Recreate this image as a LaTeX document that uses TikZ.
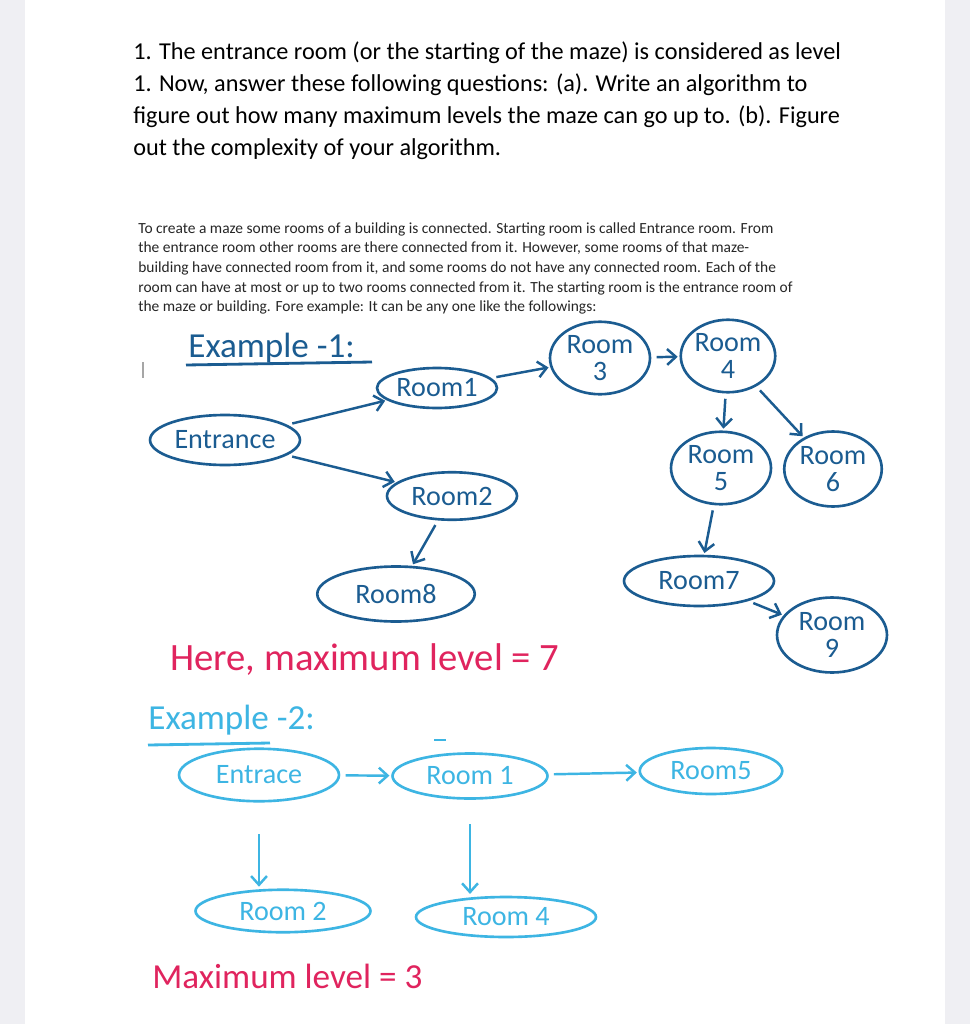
\documentclass[tikz,border=0pt]{standalone}
\usepackage{fontspec}
\setmainfont{Carlito}
\usetikzlibrary{shapes.geometric,arrows.meta}
\definecolor{inkdark}{HTML}{1B5C91}
\definecolor{inklight}{HTML}{3DB5E3}
\definecolor{inkpink}{HTML}{E0245E}
\definecolor{sidegray}{HTML}{EFEFF3}

\begin{document}
\begin{tikzpicture}[x=0.02cm, y=-0.02cm,
    room/.style={ellipse, draw, line width=1.5pt, inner sep=0pt, align=center,
      font=\fontsize{16}{15}\selectfont},
    inkone/.style={inkdark},
    inktwo/.style={inklight},
    link/.style={-{Straight Barb[length=5pt,width=9pt]}, line width=1.4pt,
      shorten <=3pt, shorten >=1pt},
    hand/.style={font=\fontsize{20}{20}\selectfont, inner sep=0pt}]
    \useasboundingbox (0,0) rectangle (970,1024);
    \fill[sidegray] (0,0) rectangle (970,1024);
    \fill[white] (25,0) rectangle (945,1024);

    % question and statement
    \node[anchor=north west, align=left, inner sep=0pt,
      font=\fontsize{13.8}{18.2}\selectfont] (question) at (133,41)
      {1. The entrance room (or the starting of the maze) is considered as level\\
       1. Now, answer these following questions: (a). Write an algorithm to\\
       figure out how many maximum levels the maze can go up to. (b). Figure\\
       out the complexity of your algorithm.};
    \node[anchor=north west, align=left, inner sep=0pt, black!85,
      font=\fontsize{8.8}{11.2}\selectfont] (statement) at (138,222)
      {To create a maze some rooms of a building is connected. Starting room is called Entrance room. From\\
       the entrance room other rooms are there connected from it. However, some rooms of that maze-\\
       building have connected room from it, and some rooms do not have any connected room. Each of the\\
       room can have at most or up to two rooms connected from it. The starting room is the entrance room of\\
       the maze or building. Fore example: It can be any one like the followings:};
    \draw[gray!70, line width=0.6pt] (143,362) -- (143,378);

    % example 1
    \node[hand, inkone, anchor=base west] (title1) at (188,357) {Example -1:};
    \draw[inkone, line width=1.6pt] (186,365) -- (372,362);
    \begin{scope}[every node/.append style={room, inkone}]
      \node[minimum width=3cm, minimum height=1cm] (entr) at (225,440) {Entrance};
      \node[minimum width=2.4cm, minimum height=0.8cm] (r1) at (437,388) {Room1};
      \node[minimum width=2.6cm, minimum height=0.95cm] (r2) at (452,496) {Room2};
      \node[minimum width=2cm, minimum height=1.45cm] (r3) at (600,358) {Room\\3};
      \node[minimum width=1.65cm, minimum height=1.45cm] (r4) at (728,356) {Room\\4};
      \node[minimum width=2cm, minimum height=1.45cm] (r5) at (721,468) {Room\\5};
      \node[minimum width=1.95cm, minimum height=1.5cm] (r6) at (833,469) {Room\\6};
      \node[minimum width=3cm, minimum height=1cm] (r7) at (699,581) {Room7};
      \node[minimum width=3.15cm, minimum height=1.1cm] (r8) at (396,594) {Room8};
      \node[minimum width=2.2cm, minimum height=1.5cm] (r9) at (832,635) {Room\\9};
    \end{scope}
    \begin{scope}[inkone]
      \draw[link] (entr) -- (r1);
      \draw[link] (entr) -- (r2);
      \draw[link] (r1) -- (r3);
      \draw[link] (r3) -- (r4);
      \draw[link] (r4) -- (r5);
      \draw[link] (r4) -- (r6);
      \draw[link] (r5) -- (r7);
      \draw[link] (r2) -- (r8);
      \draw[link] (r7) -- (r9);
    \end{scope}
    \node[hand, inkpink, anchor=base west, font=\fontsize{22}{22}\selectfont] (result1) at (170,670)
      {Here, maximum level = 7};

    % example 2
    \node[hand, inktwo, anchor=base west] (title2) at (148,729) {Example -2:};
    \draw[inktwo, line width=1.6pt] (148,745) -- (270,743);
    \draw[inktwo, line width=1.6pt] (434,740) -- (446,740);
    \begin{scope}[every node/.append style={room, inktwo}]
      \node[minimum width=3.2cm, minimum height=1.05cm] (e2) at (259,775) {Entrace};
      \node[minimum width=3.1cm, minimum height=0.9cm] (s1) at (470,776) {Room 1};
      \node[minimum width=2.85cm, minimum height=0.92cm] (s5) at (711,771) {Room5};
      \node[minimum width=3.5cm, minimum height=0.85cm] (s2) at (283,911) {Room 2};
      \node[minimum width=3.6cm, minimum height=0.8cm] (s4) at (506,917) {Room 4};
    \end{scope}
    \begin{scope}[inktwo]
      \draw[link] (e2) -- (s1);
      \draw[link] (s1) -- (s5);
      \draw[link, shorten <=18pt] (e2.south) -- (e2.south |- s2.north);
      \draw[link, shorten <=14pt] (s1.south) -- (s1.south |- s4.north);
    \end{scope}
    \node[hand, inkpink, anchor=base west] (result2) at (152,988)
      {Maximum level = 3};
\end{tikzpicture}
\end{document}
